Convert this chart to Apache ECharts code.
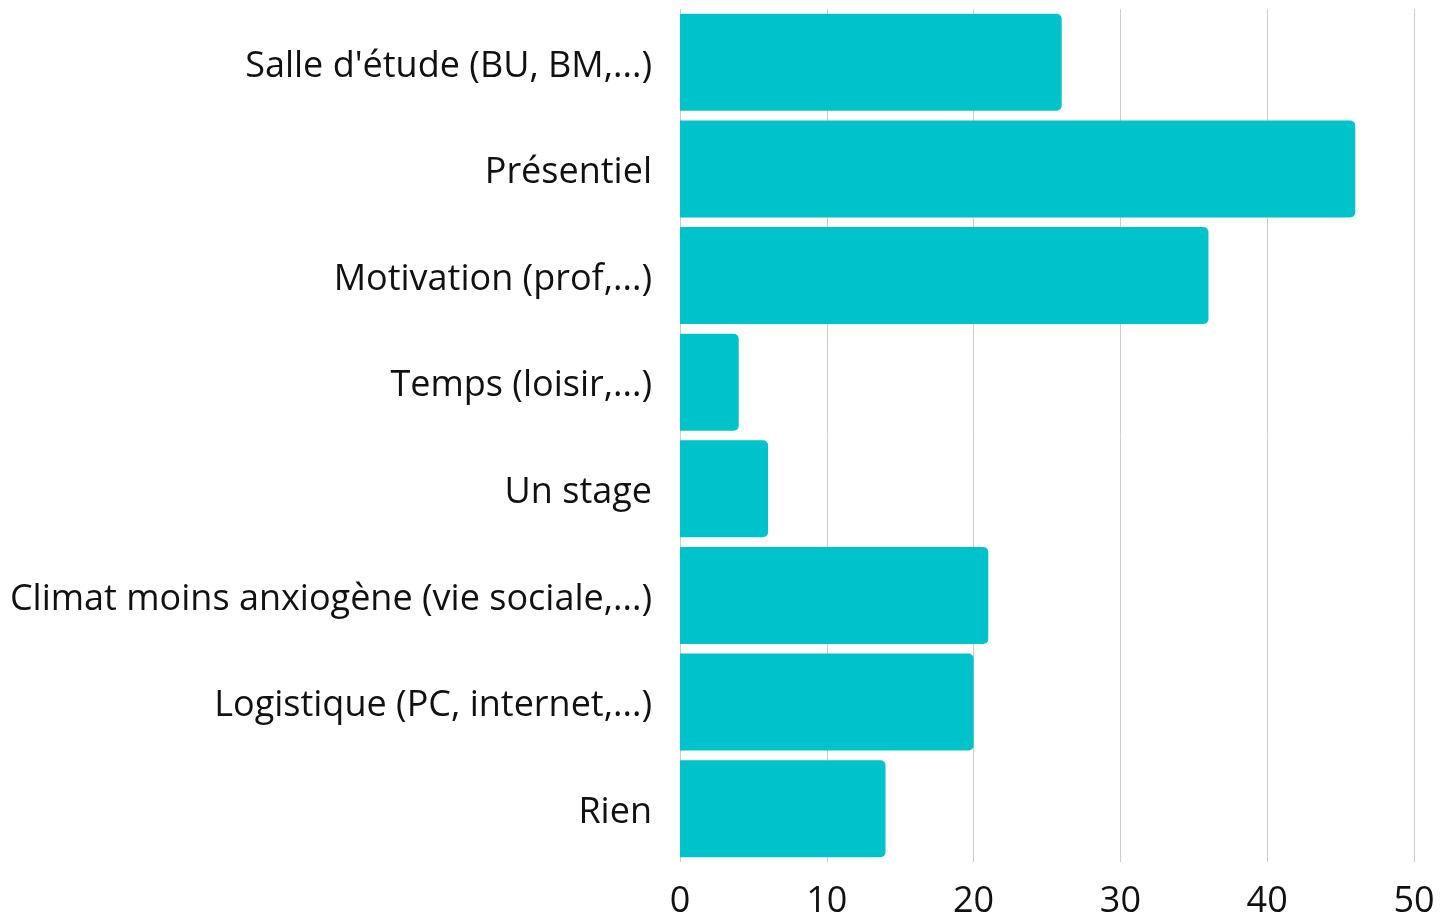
<!DOCTYPE html>
<html>
<head>
<meta charset="utf-8">
<script src="https://cdn.jsdelivr.net/npm/echarts@6/dist/echarts.min.js"></script>
<style>html,body{margin:0;padding:0;background:#fff;}#c{width:1453px;height:916px;}</style>
</head>
<body>
<div id="c"></div>
<script>
const categories = ["Salle d'étude (BU, BM,...)", "Présentiel", "Motivation (prof,...)", "Temps (loisir,...)", "Un stage", "Climat moins anxiogène (vie sociale,...)", "Logistique (PC, internet,...)", "Rien"];
const values = [26, 46, 36, 4, 6, 21, 20, 14];
const xTicks = [0, 10, 20, 30, 40, 50];

const chart = echarts.init(document.getElementById('c'), null, {renderer: 'canvas'});
chart.setOption({
  animation: false,
  grid: {left: 680, right: 39, top: 9, bottom: 54, containLabel: false, outerBoundsMode: 'none'},
  xAxis: {
    type: 'value', min: xTicks[0], max: xTicks[xTicks.length - 1], interval: 10,
    axisLine: {show: false}, axisTick: {show: false},
    splitLine: {show: true, lineStyle: {color: '#cccccc', width: 1}},
    axisLabel: {fontFamily: 'Open Sans', fontSize: 36, color: '#111', margin: 22}
  },
  yAxis: {
    type: 'category', data: categories, inverse: true,
    axisLine: {show: false}, axisTick: {show: false},
    axisLabel: {
      margin: 28,
      formatter: function (v) { return '{a|' + v + '}'; },
      rich: {a: {fontFamily: 'Open Sans', fontSize: 36, color: '#111', padding: [8, 0, 0, 0]}}
    }
  },
  series: [{
    type: 'bar', data: values, barCategoryGap: '9%',
    itemStyle: {color: '#00C2CB', borderRadius: [0, 5, 5, 0]}
  }]
});
</script>
</body>
</html>
